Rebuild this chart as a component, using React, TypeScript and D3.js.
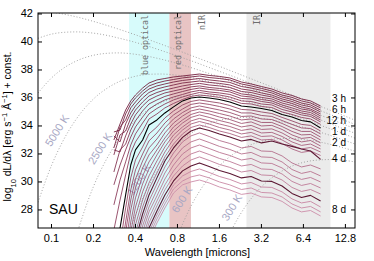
import { useMemo } from 'react';
import * as d3 from 'd3';

const W = 374;
const H = 261;
const plot = { left: 38, right: 355, top: 13, bottom: 228 };

// wavelength grid (microns) of the model spectra
const waves = [0.28, 0.31, 0.34, 0.37, 0.4, 0.45, 0.5, 0.57, 0.65, 0.75, 0.87, 1.0, 1.15, 1.35, 1.6, 1.9, 2.3, 2.7, 3.2, 3.8, 4.5, 5.3, 6.2, 7.2, 8.5];

// log10 dL/dlambda, one row per epoch, earliest first
const spectra: (number | null)[][] = [
    [33.0, 34.14, 35.14, 35.79, 36.21, 36.71, 37.07, 37.29, 37.39, 37.5, 37.57, 37.64, 37.71, 37.61, 37.54, 37.43, 37.14, 37.0, 36.82, 36.64, 36.36, 36.18, 35.93, 35.79, 35.43],
    [33.57, 33.71, 34.86, 35.57, 36.0, 36.5, 36.86, 37.07, 37.21, 37.32, 37.43, 37.5, 37.57, 37.46, 37.39, 37.29, 37.0, 36.86, 36.68, 36.5, 36.21, 36.04, 35.79, 35.64, 35.29],
    [32.43, 33.93, 34.43, 35.29, 35.71, 36.29, 36.64, 36.86, 37.0, 37.14, 37.25, 37.32, 37.39, 37.29, 37.21, 37.11, 36.82, 36.71, 36.54, 36.36, 36.07, 35.89, 35.64, 35.5, 35.14],
    [33.29, 32.86, 34.14, 34.93, 35.43, 36.0, 36.39, 36.64, 36.79, 36.93, 37.07, 37.14, 37.21, 37.11, 37.04, 36.93, 36.64, 36.54, 36.36, 36.21, 35.93, 35.75, 35.5, 35.36, 35.0],
    [31.93, 33.36, 33.64, 34.57, 35.14, 35.71, 36.14, 36.39, 36.57, 36.71, 36.86, 36.96, 37.04, 36.93, 36.86, 36.75, 36.46, 36.39, 36.21, 36.07, 35.79, 35.61, 35.36, 35.21, 34.86],
    [32.29, 32.14, 33.29, 34.14, 34.79, 35.43, 35.86, 36.14, 36.36, 36.5, 36.64, 36.79, 36.86, 36.75, 36.68, 36.57, 36.29, 36.21, 36.04, 35.93, 35.64, 35.46, 35.21, 35.11, 34.71],
    [30.71, 32.29, 32.71, 33.71, 34.36, 35.07, 35.57, 35.86, 36.11, 36.29, 36.46, 36.61, 36.71, 36.61, 36.54, 36.43, 36.14, 36.07, 35.89, 35.79, 35.5, 35.29, 35.07, 34.96, 34.57],
    [29.79, 31.21, 32.29, 33.21, 33.93, 34.64, 35.21, 35.57, 35.86, 36.07, 36.25, 36.43, 36.54, 36.43, 36.36, 36.25, 35.96, 35.93, 35.75, 35.64, 35.36, 35.14, 34.93, 34.82, 34.43],
    [28.36, 30.14, 31.43, 32.64, 33.43, 34.21, 34.86, 35.25, 35.57, 35.86, 36.07, 36.25, 36.39, 36.29, 36.21, 36.07, 35.79, 35.75, 35.57, 35.5, 35.18, 35.0, 34.79, 34.68, 34.29],
    [26.57, 28.71, 30.5, 32.07, 32.86, 33.64, 34.5, 34.86, 35.29, 35.61, 35.89, 36.11, 36.21, 36.14, 36.04, 35.89, 35.61, 35.57, 35.39, 35.32, 35.0, 34.82, 34.61, 34.5, 34.11],
    [25.5, 26.71, 29.07, 31.21, 32.29, 33.0, 34.07, 34.43, 34.93, 35.36, 35.79, 36.0, 36.07, 36.0, 35.89, 35.71, 35.43, 35.36, 35.25, 35.11, 34.82, 34.64, 34.39, 34.29, 33.86],
    [null, 25.5, 28.14, 30.29, 31.57, 32.5, 33.43, 33.93, 34.57, 35.07, 35.5, 35.75, 35.86, 35.75, 35.64, 35.46, 35.18, 35.14, 35.0, 34.89, 34.61, 34.36, 34.11, 34.04, 33.64],
    [null, 24.43, 27.14, 29.43, 30.86, 32.0, 32.93, 33.5, 34.21, 34.79, 35.21, 35.54, 35.64, 35.54, 35.39, 35.21, 34.93, 34.93, 34.75, 34.68, 34.39, 34.11, 33.86, 33.82, 33.43],
    [null, null, 26.43, 28.71, 30.21, 31.5, 32.43, 33.07, 33.86, 34.5, 34.96, 35.29, 35.43, 35.29, 35.14, 34.96, 34.68, 34.71, 34.5, 34.46, 34.18, 33.86, 33.61, 33.61, 33.21],
    [null, null, 25.5, 28.0, 29.57, 31.0, 31.93, 32.64, 33.5, 34.21, 34.71, 35.07, 35.21, 35.07, 34.89, 34.71, 34.43, 34.5, 34.25, 34.25, 33.96, 33.61, 33.36, 33.39, 33.0],
    [null, null, 24.57, 27.14, 28.86, 30.43, 31.43, 32.29, 33.14, 33.93, 34.43, 34.82, 35.0, 34.86, 34.64, 34.46, 34.18, 34.29, 34.0, 34.04, 33.75, 33.36, 33.11, 33.18, 32.79],
    [null, null, null, 26.43, 28.21, 29.86, 30.93, 31.93, 32.86, 33.64, 34.21, 34.61, 34.79, 34.61, 34.39, 34.21, 33.93, 34.04, 33.75, 33.79, 33.5, 33.11, 32.86, 32.96, 32.57],
    [null, null, null, 25.71, 27.57, 29.29, 30.43, 31.5, 32.5, 33.36, 33.93, 34.36, 34.54, 34.36, 34.14, 33.96, 33.68, 33.79, 33.5, 33.54, 33.25, 32.86, 32.61, 32.71, 32.36],
    [null, null, null, 25.14, 26.93, 28.71, 29.93, 31.07, 32.14, 33.07, 33.71, 34.14, 34.32, 34.14, 33.89, 33.71, 33.43, 33.54, 33.25, 33.29, 33.0, 32.61, 32.36, 32.46, 32.14],
    [null, null, null, 24.57, 26.36, 28.21, 29.5, 30.64, 31.79, 32.71, 33.43, 33.89, 34.07, 33.89, 33.64, 33.46, 33.18, 33.29, 33.0, 33.04, 32.75, 32.36, 32.11, 32.21, 31.89],
    [null, null, null, null, 25.86, 27.71, 29.07, 30.29, 31.5, 32.43, 33.18, 33.64, 33.86, 33.68, 33.43, 33.21, 32.93, 33.04, 32.79, 32.93, 32.71, 32.54, 32.36, 32.21, 31.61],
    [null, null, null, null, 25.5, 27.29, 28.64, 29.86, 31.07, 32.07, 32.86, 33.29, 33.5, 33.25, 32.96, 32.75, 32.43, 32.54, 32.21, 32.18, 31.86, 31.36, 31.07, 31.21, 30.93],
    [null, null, null, null, 25.14, 26.86, 28.21, 29.43, 30.64, 31.64, 32.43, 32.86, 33.07, 32.82, 32.54, 32.32, 32.0, 32.11, 31.79, 31.75, 31.43, 30.89, 30.61, 30.75, 30.43],
    [null, null, null, null, null, 26.43, 27.86, 29.0, 30.21, 31.21, 32.0, 32.43, 32.64, 32.39, 32.11, 31.89, 31.57, 31.68, 31.36, 31.32, 31.0, 30.46, 30.18, 30.32, 30.0],
    [null, null, null, null, null, 26.0, 27.43, 28.64, 29.79, 30.79, 31.57, 32.0, 32.21, 31.96, 31.68, 31.46, 31.14, 31.25, 30.93, 30.89, 30.57, 30.04, 29.75, 29.89, 29.57],
    [null, null, null, null, null, 25.5, 27.07, 28.29, 29.43, 30.43, 31.14, 31.57, 31.79, 31.54, 31.25, 31.04, 30.71, 30.82, 30.5, 30.46, 30.14, 29.61, 29.32, 29.46, 29.14],
    [null, null, null, null, null, 25.14, 26.71, 27.93, 29.07, 30.07, 30.79, 31.14, 31.36, 31.11, 30.82, 30.61, 30.29, 30.39, 30.07, 30.04, 29.71, 29.18, 28.89, 29.04, 28.64],
    [null, null, null, null, null, 24.86, 26.43, 27.64, 28.71, 29.79, 30.43, 30.75, 30.93, 30.68, 30.39, 30.18, 29.86, 29.96, 29.64, 29.61, 29.29, 28.79, 28.5, 28.61, 28.21],
    [null, null, null, null, null, 24.57, 26.14, 27.36, 28.43, 29.5, 30.07, 30.36, 30.5, 30.29, 30.0, 29.79, 29.46, 29.57, 29.25, 29.21, 28.93, 28.43, 28.14, 28.25, 27.86],
    [null, null, null, null, null, 24.29, 25.86, 27.07, 28.14, 29.21, 29.79, 30.0, 30.14, 29.93, 29.64, 29.43, 29.11, 29.21, 28.93, 28.89, 28.61, 28.14, 27.86, 27.96, 27.57],
];
const blackEpochs = [10];
const darkEpochs = [20, 26];

const epochLabels = ['3 h', '6 h', '12 h', '1 d', '2 d', '4 d', '8 d'];
const epochLabelLogL = [35.89, 35.11, 34.32, 33.54, 32.75, 31.64, 28.0];

// blackbody reference curves
const bbWaves = [0.08, 0.1, 0.12, 0.15, 0.2, 0.25, 0.3, 0.4, 0.5, 0.6, 0.8, 1.0, 1.3, 1.6, 2.0, 2.5, 3.2, 4.0, 5.0, 6.4, 8.0, 10, 12.8, 15];
const bb40000 = [42.22, 42.13, 42.0, 41.8, 41.47, 41.18, 40.93, 40.51, 40.16, 39.87, 39.41, 39.04, 38.61, 38.26, 37.88, 37.5, 37.08, 36.7, 36.31, 35.89, 35.5, 35.12, 34.69, 34.41];
const bb20000 = [40.26, 40.56, 40.68, 40.72, 40.63, 40.47, 40.29, 39.97, 39.68, 39.42, 39.0, 38.66, 38.24, 37.9, 37.54, 37.17, 36.75, 36.38, 36.0, 35.57, 35.19, 34.81, 34.38, 34.11];
const bb10000 = [36.35, 37.43, 38.08, 38.63, 39.05, 39.19, 39.22, 39.12, 38.96, 38.79, 38.46, 38.17, 37.8, 37.5, 37.15, 36.8, 36.4, 36.03, 35.66, 35.25, 34.87, 34.49, 34.07, 33.8];
const bb5000 = [28.54, 31.18, 32.87, 34.47, 35.93, 36.69, 37.13, 37.55, 37.69, 37.71, 37.62, 37.46, 37.2, 36.96, 36.67, 36.36, 35.99, 35.65, 35.29, 34.9, 34.53, 34.16, 33.74, 33.48];
const bb2500 = [null, null, null, 26.14, 29.68, 31.69, 32.96, 34.42, 35.19, 35.62, 36.04, 36.18, 36.19, 36.11, 35.95, 35.74, 35.45, 35.16, 34.85, 34.49, 34.14, 33.79, 33.39, 33.13];
const bb1200 = [null, null, null, null, null, null, 23.93, 27.65, 29.77, 31.11, 32.66, 33.47, 34.11, 34.4, 34.57, 34.61, 34.54, 34.39, 34.19, 33.91, 33.62, 33.32, 32.95, 32.71];
const bb600 = [null, null, null, null, null, null, null, null, null, null, 26.15, 28.27, 30.1, 31.15, 31.97, 32.52, 32.9, 33.07, 33.11, 33.03, 32.89, 32.68, 32.4, 32.2];
const bb300 = [null, null, null, null, null, null, null, null, null, null, null, null, null, 24.64, 26.76, 28.36, 29.65, 30.46, 31.02, 31.4, 31.56, 31.6, 31.53, 31.43];
const bbCurves = [bb40000, bb20000, bb10000, bb5000, bb2500, bb1200, bb600, bb300];

const bbLabels = ['5000 K', '2500 K', '1200 K', '600 K', '300 K'];
const bbLabelWave = [0.111, 0.226, 0.43, 0.873, 1.99];
const bbLabelLogL = [33.64, 32.36, 30.14, 28.71, 28.14];

// wavelength bands (microns)
const bandNames = ['blue optical', 'red optical', 'nIR', 'IR'];
const bandFrom = [0.36, 0.7, 1.0, 2.5];
const bandTo = [0.7, 1.0, 2.5, 10];
const bandLabelWave = [0.47, 0.81, 1.21, 3.0];
const bandFill = ['#d7fbfb', '#e8c4c4', '#ffffff', '#ebebeb'];

const xTicks = [0.1, 0.2, 0.4, 0.8, 1.6, 3.2, 6.4, 12.8];
const yTicks = [28, 30, 32, 34, 36, 38, 40, 42];

const sans = 'Liberation Sans, Arial, Helvetica, sans-serif';

export default function App() {
    const xScale = useMemo(() => d3.scaleLog().base(2).domain([0.08, 15]).range([plot.left, plot.right]), []);
    const yScale = useMemo(() => d3.scaleLinear().domain([26.71, 42.07]).range([plot.bottom, plot.top]), []);

    const specLine = d3.line<number | null>()
        .defined((d) => d != null)
        .x((_, i) => xScale(waves[i]))
        .y((d) => yScale(d as number));

    const bbLine = d3.line<number | null>()
        .defined((d) => d != null)
        .x((_, i) => xScale(bbWaves[i]))
        .y((d) => yScale(d as number))
        .curve(d3.curveMonotoneX);

    const shade = d3.interpolateRgb('#74203f', '#cd8da9');
    const colorOf = (i: number) => {
        if (blackEpochs.includes(i)) return '#000';
        if (darkEpochs.includes(i)) return '#5c1733';
        return shade(i / (spectra.length - 1));
    };

    // draw later epochs first, highlighted ones on top
    const order = d3.range(spectra.length).reverse()
        .filter((i) => !blackEpochs.includes(i) && !darkEpochs.includes(i))
        .concat(darkEpochs, blackEpochs);

    const tick = 4;

    return (
        <svg width={W} height={H} style={{ position: 'absolute', left: 0, top: 0, background: '#fff' }}>
            <defs>
                <clipPath id="plotArea">
                    <rect x={plot.left} y={plot.top} width={plot.right - plot.left} height={plot.bottom - plot.top} />
                </clipPath>
            </defs>

            <g clipPath="url(#plotArea)">
                {bandNames.map((name, i) => (
                    <rect key={name} x={xScale(bandFrom[i])} y={plot.top}
                        width={xScale(bandTo[i]) - xScale(bandFrom[i])} height={plot.bottom - plot.top}
                        fill={bandFill[i]} />
                ))}
                {bbCurves.map((c, i) => (
                    <path key={i} d={bbLine(c) || ''} fill="none" stroke="#9c9c9c"
                        strokeWidth={0.9} strokeDasharray="1 2" />
                ))}
                {bbLabels.map((t, i) => (
                    <text key={t} transform={`translate(${xScale(bbLabelWave[i])},${yScale(bbLabelLogL[i])}) rotate(-58)`}
                        textAnchor="middle" dominantBaseline="middle" fontFamily={sans} fontSize={11} fill="#a7a7c4">{t}</text>
                ))}
                {order.map((i) => (
                    <path key={i} d={specLine(spectra[i]) || ''} fill="none" stroke={colorOf(i)}
                        strokeWidth={blackEpochs.includes(i) || darkEpochs.includes(i) ? 1.1 : 0.9} strokeLinejoin="round" />
                ))}
            </g>

            {bandNames.map((name, i) => (
                <text key={name} transform={`translate(${xScale(bandLabelWave[i])},${plot.top + 2}) rotate(-90)`}
                    textAnchor="end" dominantBaseline="middle"
                    fontFamily="DejaVu Sans Mono, Liberation Mono, monospace" fontSize={8.3} fill="#6e6e6e">{name}</text>
            ))}

            <text x={49} y={214} fontFamily={sans} fontSize={14} fill="#000">SAU</text>

            {epochLabels.map((t, i) => (
                <text key={t} x={346} y={yScale(epochLabelLogL[i])} textAnchor="end" dominantBaseline="middle"
                    fontFamily={sans} fontSize={10} fill="#000">{t}</text>
            ))}

            <rect x={plot.left} y={plot.top} width={plot.right - plot.left} height={plot.bottom - plot.top}
                fill="none" stroke="#000" strokeWidth={1} />

            {xTicks.map((t) => (
                <g key={t}>
                    <line x1={xScale(t)} x2={xScale(t)} y1={plot.bottom} y2={plot.bottom - tick} stroke="#000" />
                    <line x1={xScale(t)} x2={xScale(t)} y1={plot.top} y2={plot.top + tick} stroke="#000" />
                    <text x={xScale(t)} y={242} textAnchor="middle" fontFamily={sans} fontSize={11} fill="#000">{t}</text>
                </g>
            ))}
            {yTicks.map((t) => (
                <g key={t}>
                    <line x1={plot.left} x2={plot.left + tick} y1={yScale(t)} y2={yScale(t)} stroke="#000" />
                    <line x1={plot.right} x2={plot.right - tick} y1={yScale(t)} y2={yScale(t)} stroke="#000" />
                    <text x={33} y={yScale(t)} textAnchor="end" dominantBaseline="middle" fontFamily={sans} fontSize={11} fill="#000">{t}</text>
                </g>
            ))}

            <text x={(plot.left + plot.right) / 2 + 1} y={256} textAnchor="middle" fontFamily={sans} fontSize={11} fill="#000">Wavelength [microns]</text>
            <text transform={`translate(11,${(plot.top + plot.bottom) / 2 + 6}) rotate(-90)`} textAnchor="middle"
                fontFamily={sans} fontSize={10.5} fill="#000">
                log<tspan baselineShift="sub" fontSize={7.5}>10</tspan> dL/dλ [erg s<tspan baselineShift="super" fontSize={7.5}>−1</tspan> Å<tspan baselineShift="super" fontSize={7.5}>−1</tspan>] + const.
            </text>
        </svg>
    );
}
